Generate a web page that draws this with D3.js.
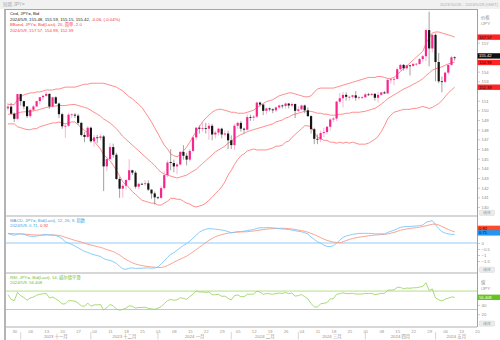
<!DOCTYPE html>
<html>
<head>
<meta charset="utf-8">
<script src="https://cdn.jsdelivr.net/npm/d3@7"></script>
<style>
  html, body { margin: 0; padding: 0; background: #fff; }
  svg { display: block; font-family: "Liberation Sans", "Noto Sans CJK SC", Arial, sans-serif; }
</style>
</head>
<body>
<svg id="chart" width="500" height="340"></svg>
<script>
// ---- trading calendar (weekdays) ----
const startDate = "2023-10-26";
const endDate = "2024-05-28";

// ---- USD/JPY daily candles, one per weekday from startDate ----
const opens = [
150.20,150.38,149.65,149.12,151.68,150.95,150.40,149.40,150.05,150.40,
150.95,151.35,151.50,151.70,150.40,151.35,150.70,149.60,148.35,148.40,
149.55,149.55,149.45,148.70,147.45,147.25,148.20,146.80,147.20,147.15,
147.30,144.20,144.95,146.20,145.40,142.90,141.90,142.20,142.80,143.80,
143.55,142.10,142.40,142.40,142.45,141.80,141.40,141.00,140.95,141.95,
143.30,144.65,144.55,144.20,144.40,145.70,145.30,144.90,145.80,147.20,
148.20,148.10,148.15,148.10,148.40,147.50,147.70,148.10,147.50,147.60,
146.90,146.40,148.40,148.70,148.10,148.00,149.30,149.25,149.35,150.80,
150.60,149.95,150.20,150.10,150.00,150.30,150.50,150.45,150.70,150.50,
150.65,149.95,150.10,150.50,150.00,149.40,148.05,147.05,147.00,147.65,
147.75,148.30,149.05,149.15,150.90,151.25,151.60,151.40,151.40,151.55,
151.30,151.35,151.35,151.65,151.60,151.70,151.30,151.60,151.85,151.75,
153.15,153.20,153.25,154.25,154.70,154.35,154.65,154.60,154.80,154.80,
155.30,155.60,158.30,156.40,157.80,155.00,153.00,152.95,153.90,154.70,
155.48];
const highs = [
150.78,150.78,149.78,151.72,151.72,151.00,150.45,150.20,150.55,151.00,
151.40,151.60,151.92,151.75,151.40,151.45,150.80,149.75,148.60,149.75,
149.70,149.70,149.65,148.80,147.75,148.35,148.30,147.45,147.45,147.50,
147.45,145.20,146.60,146.55,145.60,143.10,142.40,142.85,144.95,143.85,
143.75,142.50,142.50,142.80,142.75,141.80,141.60,141.10,142.20,143.70,
144.80,145.98,144.90,144.60,145.80,146.40,145.60,146.00,147.30,148.30,
148.45,148.80,148.70,148.70,148.60,147.90,148.20,148.20,147.90,147.90,
147.40,148.60,148.85,148.90,148.20,149.55,149.55,149.50,150.90,150.90,
150.60,150.30,150.30,150.20,150.40,150.60,150.60,150.80,150.75,150.80,
150.70,150.40,150.60,150.60,150.30,149.50,148.20,147.50,147.90,148.20,
148.40,149.20,149.30,151.00,151.80,151.90,151.85,151.50,151.60,152.00,
151.50,151.50,151.80,151.80,151.80,151.80,151.90,151.90,152.00,153.25,
153.30,153.40,154.45,154.80,154.80,154.70,154.70,154.90,154.90,155.40,
155.75,158.45,160.20,157.90,157.95,155.95,153.50,154.00,154.75,155.65,
155.59];
const lows = [
149.97,149.64,148.80,149.02,150.48,150.10,149.20,149.20,149.80,150.35,
150.60,151.05,151.40,150.15,150.30,150.65,149.20,148.10,147.15,148.30,
149.20,149.20,148.50,147.30,146.70,147.10,146.65,146.25,146.60,146.90,
141.65,143.70,144.90,145.10,142.80,140.95,140.95,141.80,142.65,143.30,
141.90,141.85,142.30,142.20,141.65,140.85,140.25,140.80,140.80,141.80,
143.10,143.80,143.60,143.40,144.30,144.90,144.30,144.70,145.70,146.90,
147.60,147.80,147.60,146.95,146.90,147.10,147.40,147.10,147.30,146.00,
146.00,145.90,148.10,147.80,147.60,147.90,148.90,148.90,149.20,150.40,
149.50,149.60,149.90,149.70,149.80,150.10,150.20,150.20,150.20,150.30,
149.20,149.80,150.00,149.70,149.30,147.60,146.50,146.50,146.70,147.20,
147.50,147.90,148.80,148.90,150.70,150.30,151.00,151.00,151.20,151.00,
151.10,151.20,151.30,151.50,151.50,151.00,150.80,151.50,151.70,151.70,
152.80,152.60,153.20,154.10,154.10,154.20,153.60,154.50,154.60,154.70,
155.00,155.10,154.55,156.00,153.00,152.80,151.86,152.80,153.70,154.60,
155.15];
const closes = [
150.38,149.65,149.12,151.68,150.95,150.40,149.40,150.05,150.40,150.95,
151.35,151.50,151.70,150.40,151.35,150.70,149.60,148.35,148.40,149.55,
149.58,149.45,148.70,147.45,147.25,148.20,146.80,147.20,147.15,147.30,
144.20,144.95,146.20,145.40,142.90,141.90,142.20,142.80,143.80,143.55,
142.10,142.40,142.38,142.45,141.80,141.40,141.00,140.95,141.95,143.30,
144.60,144.55,144.20,144.40,145.70,145.30,144.90,145.80,147.20,148.20,
148.10,148.15,148.10,148.40,147.50,147.70,148.10,147.50,147.60,146.90,
146.40,148.40,148.70,148.10,148.00,149.30,149.25,149.35,150.80,150.60,
149.95,150.20,150.10,150.00,150.30,150.50,150.45,150.70,150.50,150.65,
149.95,150.10,150.50,150.00,149.40,148.05,147.05,147.00,147.65,147.75,
148.30,149.05,149.15,150.90,151.25,151.60,151.40,151.40,151.55,151.30,
151.35,151.35,151.65,151.60,151.70,151.30,151.60,151.85,151.75,153.15,
153.20,153.25,154.25,154.70,154.35,154.65,154.60,154.80,154.82,155.30,
155.60,158.30,156.40,157.80,155.00,153.00,152.95,153.90,154.70,155.48,
155.42];

// ---- Bollinger band (20, 2.0) ----
const bbUpper = [
150.6,150.6,150.6,151.1,151.4,151.6,151.7,151.8,151.8,151.9,
151.9,152.0,152.1,152.1,152.1,152.2,152.2,152.3,152.4,152.4,
152.4,152.4,152.5,152.6,152.7,152.7,152.8,152.8,152.8,152.8,
152.8,152.7,152.6,152.5,152.4,152.2,152.0,151.7,151.4,151.2,
150.9,150.6,150.3,149.8,149.3,148.8,148.2,147.6,147.0,146.4,
146.0,145.5,145.3,145.2,145.4,145.8,146.2,146.7,147.3,147.8,
148.3,148.8,149.2,149.5,149.8,150.0,150.1,150.1,150.0,149.9,
149.8,149.8,149.7,149.7,149.7,149.8,149.9,150.0,150.3,150.5,
150.7,150.9,151.0,151.1,151.3,151.5,151.6,151.7,151.8,151.8,
151.7,151.6,151.5,151.4,151.4,151.5,151.9,152.2,152.3,152.3,
152.3,152.3,152.3,152.4,152.5,152.6,152.7,152.8,152.9,153.0,
153.1,153.2,153.3,153.4,153.4,153.4,153.5,153.5,153.4,153.3,
153.3,153.4,153.7,154.0,154.3,154.6,154.9,155.2,155.5,155.8,
156.1,156.9,157.5,158.0,158.1,158.1,158.0,157.9,157.8,157.7,
157.57];
const bbMiddle = [
149.6,149.6,149.6,149.7,149.8,149.85,149.85,149.9,149.95,150.0,
150.1,150.2,150.3,150.35,150.4,150.45,150.5,150.5,150.5,150.55,
150.6,150.6,150.5,150.4,150.3,150.2,150.0,149.8,149.6,149.4,
149.1,148.9,148.7,148.4,148.1,147.7,147.3,147.0,146.7,146.4,
146.1,145.8,145.5,145.2,144.9,144.6,144.3,143.9,143.6,143.4,
143.3,143.2,143.1,143.0,143.1,143.2,143.3,143.5,143.7,143.9,
144.2,144.5,144.8,145.1,145.4,145.7,145.9,146.1,146.3,146.6,
146.8,147.1,147.3,147.5,147.6,147.8,147.9,148.0,148.1,148.2,
148.3,148.4,148.5,148.6,148.8,148.9,149.0,149.2,149.3,149.5,
149.6,149.7,149.8,149.9,149.9,149.9,149.8,149.7,149.7,149.6,
149.6,149.5,149.5,149.5,149.6,149.6,149.7,149.7,149.8,149.8,
149.8,149.85,149.9,150.0,150.1,150.2,150.4,150.65,150.9,151.2,
151.4,151.6,151.8,152.0,152.2,152.35,152.5,152.7,152.85,153.05,
153.25,153.6,153.85,154.15,154.3,154.4,154.5,154.65,154.8,154.9,
154.98];
const bbLower = [
148.6,148.6,148.6,148.3,148.2,148.1,148.0,148.0,148.1,148.1,
148.3,148.4,148.5,148.6,148.7,148.7,148.8,148.7,148.6,148.7,
148.8,148.8,148.5,148.2,147.9,147.7,147.2,146.8,146.4,146.0,
145.4,145.1,144.8,144.3,143.8,143.2,142.6,142.3,142.0,141.6,
141.3,141.0,140.7,140.6,140.5,140.4,140.4,140.2,140.2,140.4,
140.6,140.9,140.9,140.8,140.8,140.6,140.4,140.3,140.1,140.0,
140.1,140.2,140.4,140.7,141.0,141.4,141.7,142.1,142.6,143.3,
143.8,144.4,144.9,145.3,145.5,145.8,145.9,146.0,145.9,145.9,
145.9,145.9,146.0,146.1,146.3,146.3,146.4,146.7,146.8,147.2,
147.5,147.8,148.1,148.4,148.4,148.3,147.7,147.2,147.1,146.9,
146.9,146.7,146.7,146.6,146.7,146.6,146.7,146.6,146.7,146.6,
146.5,146.5,146.5,146.6,146.8,147.0,147.3,147.8,148.4,149.1,
149.5,149.8,149.9,150.0,150.1,150.1,150.1,150.2,150.2,150.3,
150.4,150.3,150.2,150.3,150.5,150.7,151.0,151.4,151.8,152.1,
152.39];

// ---- MACD (12, 26, 9) ----
const macdLine = [
0.78,0.72,0.64,0.75,0.76,0.73,0.62,0.56,0.55,0.58,
0.63,0.68,0.73,0.66,0.67,0.62,0.52,0.35,0.10,-0.02,
-0.12,-0.25,-0.40,-0.55,-0.70,-0.78,-0.90,-0.98,-1.05,-1.12,
-1.30,-1.40,-1.45,-1.55,-1.70,-1.95,-2.15,-2.19,-2.10,-2.08,
-2.12,-2.11,-2.10,-2.08,-2.08,-2.10,-2.08,-2.00,-1.75,-1.50,
-1.20,-0.95,-0.80,-0.60,-0.40,-0.20,-0.05,0.15,0.40,0.65,
0.90,1.05,1.15,1.20,1.18,1.15,1.12,1.08,1.03,0.95,
0.86,0.90,0.95,0.96,0.98,1.04,1.08,1.13,1.22,1.27,
1.27,1.28,1.28,1.26,1.24,1.20,1.17,1.15,1.12,1.08,
1.02,0.97,0.94,0.86,0.74,0.50,0.30,0.10,0.00,-0.18,
-0.28,-0.30,-0.22,-0.02,0.25,0.46,0.58,0.65,0.72,0.76,
0.80,0.80,0.81,0.80,0.80,0.76,0.76,0.77,0.76,0.88,
0.98,1.06,1.18,1.30,1.35,1.38,1.38,1.40,1.42,1.45,
1.50,1.72,1.80,1.86,1.52,1.20,0.95,0.83,0.76,0.72,
0.71];
const macdSignal = [
0.80,0.79,0.77,0.76,0.75,0.74,0.72,0.70,0.68,0.67,
0.66,0.66,0.67,0.67,0.67,0.66,0.63,0.57,0.48,0.39,
0.30,0.22,0.15,0.08,-0.02,-0.10,-0.17,-0.23,-0.30,-0.36,
-0.45,-0.55,-0.63,-0.72,-0.85,-1.00,-1.20,-1.38,-1.52,-1.65,
-1.75,-1.82,-1.88,-1.93,-1.96,-1.99,-2.02,-2.04,-2.04,-1.98,
-1.88,-1.75,-1.60,-1.47,-1.35,-1.22,-1.10,-0.92,-0.74,-0.55,
-0.35,-0.16,0.04,0.22,0.38,0.52,0.62,0.70,0.77,0.82,
0.86,0.88,0.90,0.92,0.93,0.94,0.97,1.00,1.04,1.08,
1.12,1.15,1.18,1.20,1.21,1.22,1.23,1.22,1.20,1.17,
1.13,1.08,1.03,0.97,0.90,0.80,0.70,0.58,0.45,0.32,
0.22,0.14,0.08,0.04,0.03,0.10,0.20,0.30,0.37,0.43,
0.48,0.52,0.56,0.60,0.63,0.66,0.68,0.70,0.72,0.76,
0.82,0.88,0.97,1.06,1.12,1.17,1.21,1.25,1.28,1.32,
1.37,1.44,1.50,1.56,1.58,1.50,1.38,1.25,1.13,1.02,
0.92];

// ---- RSI (14, Wilder smoothing) ----
const rsiLine = [
62,52,49,67,60,56,50,55,57,61,
63,64,65,55,57,53,49,42,42.5,49,
49,48,44,38,37,44,37,40,40,41,
29,34,41,38,31,28.5,30.5,33,38,37,
33,34.5,34.5,35,32.5,31.5,30.5,33,36,43,
49,52,50,51,55.6,54,52,58,63,70,
68,68,67,68,62,62,63,58.5,59,54,
51,60,61.5,58,57.5,63,63,63.5,69.5,68,
63,64.5,64,63,64.5,65.5,65,66.5,64.5,65.5,
59,60,62.5,58,53,43,36,35,42.5,43.5,
45,53,53.5,63,64.5,66,64.5,64.5,65,63.5,
63.5,63.5,65,64.5,65,62,63.5,65,64.5,72,
72,72.5,78,78,75,76.5,76,77,77,78.5,
80,88,71,74.5,55,51,48.5,52.5,54.5,57,
56.408];
const rsiBands = [70, 30];

// ---- axis tick values and labels ----
const priceTicks = [140,141,142,143,144,145,146,147,148,149,150,151,152,153,154,155,156,157,158];
const macdTicks = [-1.5,-1,-0.5,0,0.5,1,1.5];
const rsiTicks = [20,40,60];
const monthNames = ["一月","二月","三月","四月","五月","六月","七月","八月","九月","十月","十一月","十二月"];

// ---- layout ----
const W = 500, H = 340;
const plotL = 6, plotR = 477;
const mainTop = 9, mainBot = 216, macdBot = 273, rsiBot = 327;
const fs = 4.3;

const svg = d3.select("#chart");

const days = d3.utcDay.range(new Date(startDate), d3.utcDay.offset(new Date(endDate), 1))
  .filter(d => d.getUTCDay() !== 0 && d.getUTCDay() !== 6);
const n = closes.length;
const last = n - 1;
const fmtDate = d3.utcFormat("%Y/%-m/%-d");

const x = d3.scaleLinear().domain([-0.6, 147]).range([plotL, plotR]);
const yP = d3.scaleLinear().domain([139.07, 160.48]).range([mainBot, mainTop]);
const yM = d3.scaleLinear().domain([-2.5, 2.25]).range([macdBot, mainBot]);
const yR = d3.scaleLinear().domain([-7.8, 109]).range([rsiBot, macdBot]);

// header strip
svg.append("rect").attr("x", 0).attr("y", 0).attr("width", W).attr("height", mainTop).attr("fill", "#f1f1f1");
svg.append("text").attr("x", 3).attr("y", 4.6).attr("dominant-baseline", "central")
  .attr("font-size", 4.6).attr("fill", "#a8a8a8").text("短期 JPY=");
svg.append("text").attr("x", 498).attr("y", 4.6).attr("dominant-baseline", "central")
  .attr("text-anchor", "end").attr("font-size", fs).attr("fill", "#b0b0b0")
  .text(`${fmtDate(new Date(startDate))} - ${fmtDate(new Date(endDate))} (GMT)`);

// clip paths per panel
const defs = svg.append("defs");
function clip(id, y0, y1) {
  defs.append("clipPath").attr("id", id).append("rect")
    .attr("x", plotL).attr("y", y0).attr("width", plotR - plotL).attr("height", y1 - y0);
  return `url(#${id})`;
}
const gMain = svg.append("g").attr("clip-path", clip("cMain", mainTop, mainBot));
const gMacd = svg.append("g").attr("clip-path", clip("cMacd", mainBot, macdBot));
const gRsi = svg.append("g").attr("clip-path", clip("cRsi", macdBot, rsiBot));

const idx = d3.range(n);

// Bollinger bands
const bandLine = arr => d3.line().x(i => x(i)).y(i => yP(arr[i]));
[bbUpper, bbMiddle, bbLower].forEach(arr => {
  gMain.append("path").datum(idx).attr("d", bandLine(arr))
    .attr("fill", "none").attr("stroke", "#ff7f7f").attr("stroke-width", 0.9);
});

// candles
const upCol = "#f7268c", upWick = "#f6a3c9", dnCol = "#151515", dnWick = "#8a8a8a";
const bw = 2.2;
const candle = gMain.selectAll("g.c").data(idx).join("g").attr("class", "c");
candle.append("line")
  .attr("x1", i => x(i)).attr("x2", i => x(i))
  .attr("y1", i => yP(highs[i])).attr("y2", i => yP(lows[i]))
  .attr("stroke", i => closes[i] >= opens[i] ? upWick : dnWick).attr("stroke-width", 0.8);
candle.append("rect")
  .attr("x", i => x(i) - bw / 2).attr("width", bw)
  .attr("y", i => yP(Math.max(opens[i], closes[i])))
  .attr("height", i => Math.max(0.8, Math.abs(yP(opens[i]) - yP(closes[i]))))
  .attr("fill", i => closes[i] >= opens[i] ? upCol : dnCol);

// MACD
gMacd.append("line").attr("x1", plotL).attr("x2", plotR).attr("y1", yM(0)).attr("y2", yM(0))
  .attr("stroke", "#86c5f5").attr("stroke-width", 0.9);
gMacd.append("path").datum(idx).attr("d", d3.line().x(i => x(i)).y(i => yM(macdSignal[i])))
  .attr("fill", "none").attr("stroke", "#f99a86").attr("stroke-width", 0.9);
gMacd.append("path").datum(idx).attr("d", d3.line().x(i => x(i)).y(i => yM(macdLine[i])))
  .attr("fill", "none").attr("stroke", "#7cc6fa").attr("stroke-width", 0.9);

// RSI
gRsi.append("line").attr("x1", plotL).attr("x2", plotR).attr("y1", yR(rsiBands[0])).attr("y2", yR(rsiBands[0]))
  .attr("stroke", "#d3eeb9").attr("stroke-width", 1.8);
gRsi.append("line").attr("x1", plotL).attr("x2", plotR).attr("y1", yR(rsiBands[1])).attr("y2", yR(rsiBands[1]))
  .attr("stroke", "#a9dc74").attr("stroke-width", 0.9);
gRsi.append("path").datum(idx).attr("d", d3.line().x(i => x(i)).y(i => yR(rsiLine[i])))
  .attr("fill", "none").attr("stroke", "#9ed666").attr("stroke-width", 0.9);

// frames
const frame = svg.append("g").attr("fill", "none");
frame.append("line").attr("x1", 4).attr("x2", plotR).attr("y1", mainTop + 0.5).attr("y2", mainTop + 0.5)
  .attr("stroke", "#a5a5a5").attr("stroke-width", 1.2);
[mainBot, macdBot, rsiBot].forEach(yy => {
  frame.append("line").attr("x1", plotL).attr("x2", plotR).attr("y1", yy).attr("y2", yy)
    .attr("stroke", "#cacaca").attr("stroke-width", 1.6);
});
frame.append("line").attr("x1", 5).attr("x2", 5).attr("y1", mainTop).attr("y2", H)
  .attr("stroke", "#acacac").attr("stroke-width", 1.8);
frame.append("line").attr("x1", plotR + 0.5).attr("x2", plotR + 0.5).attr("y1", mainTop).attr("y2", rsiBot)
  .attr("stroke", "#a0a0a0").attr("stroke-width", 1);

// value tags placed on the right axis (center positions)
const tagH = 5.4;
const priceTags = [
  { y: yP(bbUpper[last]), txt: bbUpper[last].toFixed(2), bg: "#ff2323", fg: "#2a0000" },
  { y: yP(closes[last]) - 2, txt: closes[last].toFixed(2), bg: "#111", fg: "#fff" },
  { y: yP(bbMiddle[last]) + 0.3, txt: bbMiddle[last].toFixed(2), bg: "#ff2323", fg: "#2a0000" },
  { y: yP(bbLower[last]), txt: bbLower[last].toFixed(2), bg: "#ff2323", fg: "#2a0000" }
];
const macdTags = [
  { y: yM(macdSignal[last]) - 3.6, txt: macdSignal[last].toFixed(2), bg: "#ff4a2a", fg: "#1a0000" },
  { y: yM(macdLine[last]) - 1.6, txt: macdLine[last].toFixed(2), bg: "#2196f3", fg: "#001020" }
];
const rsiTags = [
  { y: yR(rsiLine[last]), txt: rsiLine[last].toFixed(3), bg: "#64c41e", fg: "#ffffff" }
];
// tick labels sitting under a tag are not shown
const freeTicks = (ticks, scale, tags) => ticks.filter(t => tags.every(g => Math.abs(scale(t) - g.y) > 4.9));

function rightAxis(scale, ticks, fmt) {
  const g = svg.append("g").attr("transform", `translate(${plotR + 0.5},0)`)
    .call(d3.axisRight(scale).tickValues(ticks).tickFormat(fmt).tickSize(2.5).tickPadding(1.5));
  g.select(".domain").remove();
  g.selectAll("line").attr("stroke", "#a8a8a8").attr("stroke-width", 0.6);
  g.selectAll("text").attr("font-size", fs).attr("fill", "#8c8c8c").attr("font-family", null);
  return g;
}
rightAxis(yP, freeTicks(priceTicks, yP, priceTags), d3.format("d"));
rightAxis(yM, freeTicks(macdTicks, yM, macdTags), d3.format("~g"));
rightAxis(yR, freeTicks(rsiTicks, yR, rsiTags), d3.format("d"));

function axisHeader(y, a, b) {
  const t = svg.append("text").attr("x", 481).attr("font-size", fs).attr("fill", "#8c8c8c");
  t.append("tspan").attr("x", 481).attr("y", y).text(a);
  t.append("tspan").attr("x", 481).attr("y", y + 6.5).text(b);
}
axisHeader(18.5, "价格", "/JPY");
axisHeader(283.5, "值", "/JPY");

function scaleTag(y) {
  svg.append("rect").attr("x", 479.5).attr("y", y - 2.6).attr("width", 15).attr("height", 5.2)
    .attr("rx", 0.8).attr("fill", "#ececec").attr("stroke", "#d0d0d0").attr("stroke-width", 0.4);
  svg.append("text").attr("x", 487).attr("y", y).attr("dominant-baseline", "central")
    .attr("text-anchor", "middle").attr("font-size", 3.9).attr("fill", "#9a9a9a").text("线性");
}
scaleTag(212.8);
scaleTag(269.8);
scaleTag(323.6);

function valueTag(t) {
  svg.append("rect").attr("x", plotR + 0.5).attr("y", t.y - tagH / 2).attr("width", 22.5).attr("height", tagH).attr("fill", t.bg);
  svg.append("text").attr("x", plotR + 2).attr("y", t.y).attr("dominant-baseline", "central")
    .attr("font-size", 4.1).attr("fill", t.fg).text(t.txt);
}
[...priceTags, ...macdTags, ...rsiTags].forEach(valueTag);

// legends
function legendLine(y, parts) {
  const t = svg.append("text").attr("x", 10).attr("y", y).attr("dominant-baseline", "central").attr("font-size", fs);
  parts.forEach(([s, c]) => t.append("tspan").attr("fill", c).text(s));
}
const lastDay = fmtDate(days[last]);
const chg = closes[last] - closes[last - 1];
const chgPct = chg / closes[last - 1] * 100;
legendLine(13.2, [["Cnd, JPY=, Bid", "#222"]]);
legendLine(18.8, [[`${lastDay}, ${opens[last].toFixed(2)}, ${highs[last].toFixed(2)}, ${lows[last].toFixed(2)}, ${closes[last].toFixed(2)}, `, "#222"],
                  [`${chg.toFixed(2)}, (${chgPct.toFixed(2)}%)`, "#f03030"]]);
legendLine(24.3, [["BBand, JPY=, Bid(Last), 20, 简单, 2.0", "#ff3b3b"]]);
legendLine(29.8, [[`${lastDay}, ${bbUpper[last].toFixed(2)}, ${bbMiddle[last].toFixed(2)}, ${bbLower[last].toFixed(2)}`, "#ff3b3b"]]);
legendLine(219.8, [["MACD, JPY=, Bid(Last), 12, 26, 9, 指数", "#3c9fe6"]]);
legendLine(225.2, [[`${lastDay}, ${macdLine[last].toFixed(2)}, `, "#3c9fe6"], [macdSignal[last].toFixed(2), "#f04a3a"]]);
legendLine(277, [["RSI, JPY=, Bid(Last), 14, 威尔德平滑", "#6fbd2a"]]);
legendLine(282.4, [[`${lastDay}, ${rsiLine[last].toFixed(3)}`, "#6fbd2a"]]);

// date axis: Monday day numbers
const mondayIdx = d3.range(days.length).filter(i => days[i].getUTCDay() === 1 && x(i) <= plotR);
const dayAxis = svg.append("g").attr("transform", `translate(0,${rsiBot + 4.2})`)
  .call(d3.axisBottom(x).tickValues(mondayIdx).tickFormat(i => d3.utcFormat("%d")(days[i])).tickSize(0).tickPadding(0));
dayAxis.select(".domain").remove();
dayAxis.selectAll("text").attr("font-size", fs).attr("fill", "#9a9a9a").attr("font-family", null)
  .attr("dy", null).attr("dominant-baseline", "central");

// month separators and labels
const monthStarts = d3.range(1, days.length).filter(i => days[i].getUTCMonth() !== days[i - 1].getUTCMonth() && x(i) <= plotR);
monthStarts.forEach((i, k) => {
  const xs = x(i);
  svg.append("line").attr("x1", xs).attr("x2", xs).attr("y1", 332).attr("y2", 339.5)
    .attr("stroke", "#c4c4c4").attr("stroke-width", 0.7);
  const xe = k + 1 < monthStarts.length ? x(monthStarts[k + 1]) : plotR;
  const d = days[i];
  svg.append("text").attr("x", (xs + xe) / 2).attr("y", 336.2).attr("dominant-baseline", "central")
    .attr("text-anchor", "middle").attr("font-size", fs).attr("fill", "#8e8e8e")
    .text(`${d.getUTCFullYear()} ${monthNames[d.getUTCMonth()]}`);
});
</script>
</body>
</html>
